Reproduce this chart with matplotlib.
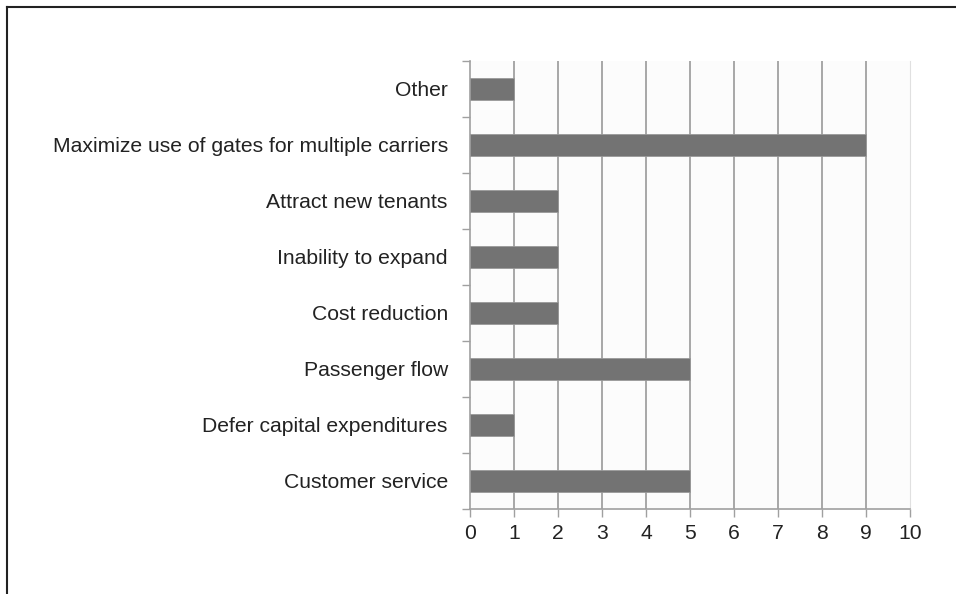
import matplotlib.pyplot as plt
from matplotlib.lines import Line2D
import numpy as np

plt.rcParams["font.family"] = ["Liberation Sans", "DejaVu Sans"]
plt.rcParams["font.size"] = 15.2

# data (top to bottom as shown)
categories = [
    "Other",
    "Maximize use of gates for multiple carriers",
    "Attract new tenants",
    "Inability to expand",
    "Cost reduction",
    "Passenger flow",
    "Defer capital expenditures",
    "Customer service",
]
counts = [1, 9, 2, 2, 2, 5, 1, 5]
x_ticks = list(range(0, 11))

fig = plt.figure(figsize=(9.56, 5.94), dpi=100)
ax = fig.add_axes([470 / 956, 1 - 509 / 594, 440 / 956, 448 / 594])
ax.set_facecolor("#fcfcfc")

y = np.arange(len(categories))
ax.barh(y, counts, height=0.38, color="#737373", edgecolor="#9a9a9a",
        linewidth=0.6, zorder=3)

ax.set_xlim(0, 10)
ax.set_ylim(len(categories) - 0.5, -0.5)

# vertical gridlines
for v in x_ticks[1:-1]:
    ax.axvline(v, color="#999999", linewidth=1.2, zorder=1)

ax.set_xticks(x_ticks)
ax.set_yticks(y)
ax.set_yticklabels(categories)
ax.set_yticks(np.arange(-0.5, len(categories), 1.0), minor=True)
ax.tick_params(axis="y", which="major", length=0, pad=16, labelcolor="#222222")
ax.tick_params(axis="y", which="minor", length=6, width=1, color="#a0a0a0")
ax.tick_params(axis="x", length=6, width=1, color="#a0a0a0", pad=5,
               labelcolor="#222222")

ax.spines["top"].set_visible(False)
ax.spines["right"].set_color("#e0e0e0")
ax.spines["left"].set_color("#a0a0a0")
ax.spines["bottom"].set_color("#a0a0a0")
ax.spines["left"].set_linewidth(1.2)
ax.spines["bottom"].set_linewidth(1.2)

# outer frame (left and top edges only)
fig.add_artist(Line2D([7 / 956, 7 / 956], [0, 1 - 7 / 594],
                      transform=fig.transFigure, color="#222222", linewidth=1.5))
fig.add_artist(Line2D([7 / 956, 1], [1 - 7 / 594, 1 - 7 / 594],
                      transform=fig.transFigure, color="#222222", linewidth=1.5))

fig.savefig("out.png", dpi=100)
